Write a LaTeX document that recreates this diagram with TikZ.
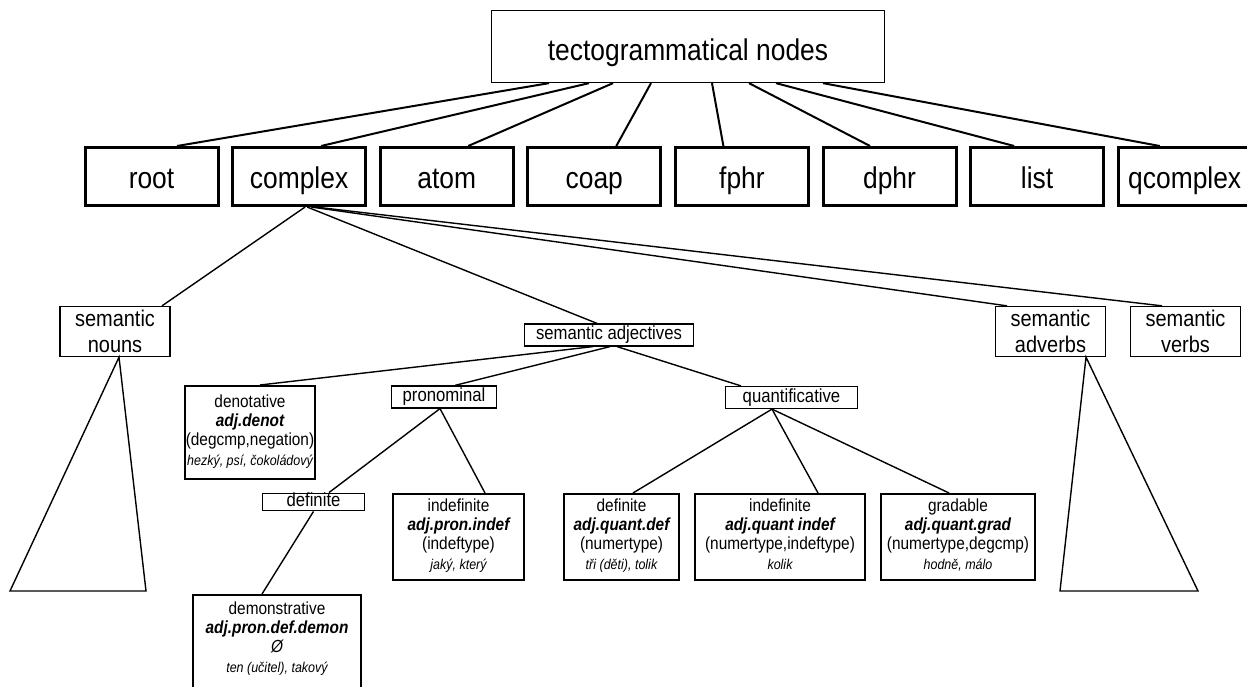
\documentclass[tikz,border=0pt]{standalone}
\usepackage{fontspec}
\setmainfont[FakeStretch=0.88]{Liberation Sans}
\usetikzlibrary{positioning}
\tikzset{
  box/.style={rectangle, draw=black, align=center, inner sep=0pt},
  topnode/.style={box, line width=1.3pt, minimum width=393pt, minimum height=72pt,
    text height=29pt, text depth=1pt, font=\fontsize{30}{34}\selectfont},
  rownode/.style={box, line width=3pt, minimum width=133pt, minimum height=58pt,
    text height=26pt, text depth=1pt, font=\fontsize{30}{34}\selectfont},
  catnode/.style={box, line width=1.3pt, minimum width=110pt, minimum height=50pt,
    font=\fontsize{22.7}{26}\selectfont},
  subnode/.style={box, line width=1.2pt, minimum height=22pt,
    text height=13.7pt, text depth=4pt, font=\fontsize{19}{22}\selectfont},
  leafnode/.style={box, line width=2pt, minimum height=86pt,
    font=\fontsize{17.5}{19}\selectfont},
  edge/.style={line width=1.4pt},
  topedge/.style={line width=2pt}
}
\newcommand{\attr}[1]{{\bfseries\itshape #1}}
\newcommand{\exword}[1]{{\fontsize{14.2}{16}\selectfont\itshape\strut #1}}

\begin{document}
\begin{tikzpicture}[x=1pt, y=-1pt]
    \useasboundingbox (0,0) rectangle (1247,687);
    % top level
    \node[topnode] (tnodes) at (688,46.5) {tectogrammatical nodes};
    \foreach \nm [count=\i from 0] in {root,complex,atom,coap,fphr,dphr,list,qcomplex}
      \node[rownode] (\nm) at (151.5+147.6*\i,176.5) {\nm};
    \foreach \nm/\a/\b in {root/-139/25.5, complex/-99/22, atom/-75/21.5, coap/-37/22,
        fphr/24/-18.5, dphr/61/-19.5, list/88/-23, qcomplex/135/-25}
      \draw[topedge] ([xshift=\a pt]tnodes.south) -- ([xshift=\b pt]\nm.north);
    % semantic parts of speech
    \node[catnode] (snouns) at (115,331.5) {semantic\\nouns};
    \node[catnode] (sadv) at (1050.5,331.5) {semantic\\adverbs};
    \node[catnode, right=23.7pt of sadv] (sverbs) {semantic\\verbs};
    \node[subnode, minimum width=169pt] (sadj) at (609,335) {semantic adjectives};
    \draw[edge] ([xshift=6pt]complex.south) -- ([xshift=47pt]snouns.north);
    \draw[edge] ([xshift=8pt]complex.south) -- ([xshift=-12pt]sadj.north);
    \draw[edge] ([xshift=12pt]complex.south) -- ([xshift=-43.5pt]sadv.north);
    \draw[edge] ([xshift=16pt]complex.south) -- ([xshift=-23.5pt]sverbs.north);
    % subtrees left out
    \coordinate (nl) at (10,591);
    \coordinate (nr) at (146,591);
    \coordinate (al) at (1060,591);
    \coordinate (ar) at (1198,591);
    \draw[edge] (nl) -- ([xshift=4pt]snouns.south) -- (nr) -- cycle;
    \draw[edge] (al) -- ([xshift=35.5pt]sadv.south) -- (ar) -- cycle;
    % adjectives
    \node[leafnode, minimum width=130pt, minimum height=93pt] (denot) at (250,432.5)
      {denotative\\\attr{adj.denot}\\(degcmp,negation)\\[1pt]\exword{hezký, psí, čokoládový}};
    \node[subnode, minimum width=105pt] (pron) at (444,397) {pronominal};
    \node[subnode, minimum width=132pt] (quant) at (791.5,397.5) {quantificative};
    \draw[edge] ([xshift=-16pt]sadj.south) -- ([xshift=10pt]denot.north);
    \draw[edge] ([xshift=1pt]sadj.south) -- ([xshift=11pt]pron.north);
    \draw[edge] ([xshift=8pt]sadj.south) -- ([xshift=-50.5pt]quant.north);
    % pronominal
    \node[subnode, minimum width=102pt, minimum height=17pt] (pdef) at (313.5,502) {definite};
    \node[leafnode, minimum width=131pt] (pindef) at (458.5,537)
      {indefinite\\\attr{adj.pron.indef}\\(indeftype)\\[1pt]\exword{jaký, který}};
    \node[leafnode, anchor=north, minimum width=168pt, inner ysep=7pt, text depth=45pt]
      (demon) at (277,594)
      {demonstrative\\\attr{adj.pron.def.demon}\\\itshape Ø\\[1pt]\exword{ten (učitel), takový}};
    \draw[edge] ([xshift=-4pt]pron.south) -- ([xshift=15.5pt]pdef.north);
    \draw[edge] ([xshift=-4pt]pron.south) -- ([xshift=26.5pt]pindef.north);
    \draw[edge] (pdef.south) -- ([xshift=-15pt]demon.north);
    % quantificative
    \node[leafnode, minimum width=115pt] (qdef) at (621.5,537)
      {definite\\\attr{adj.quant.def}\\(numertype)\\[1pt]\exword{tři (děti), tolik}};
    \node[leafnode, minimum width=170pt] (qindef) at (780,537)
      {indefinite\\\attr{adj.quant indef}\\(numertype,indeftype)\\[1pt]\exword{kolik}};
    \node[leafnode, minimum width=154pt] (qgrad) at (958,537)
      {gradable\\\attr{adj.quant.grad}\\(numertype,degcmp)\\[1pt]\exword{hodně, málo}};
    \draw[edge] ([xshift=-19.5pt]quant.south) -- ([xshift=11.5pt]qdef.north);
    \draw[edge] ([xshift=-19.5pt]quant.south) -- ([xshift=38pt]qindef.north);
    \draw[edge] ([xshift=-19.5pt]quant.south) -- ([xshift=-9pt]qgrad.north);
\end{tikzpicture}
\end{document}
